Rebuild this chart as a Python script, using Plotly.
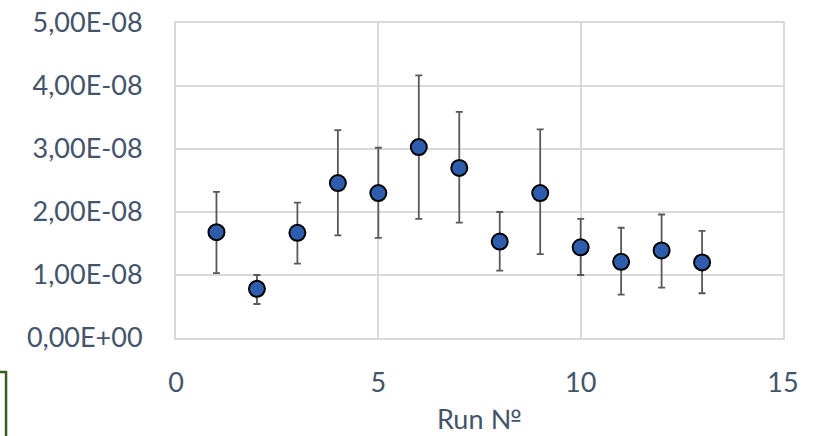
import plotly.graph_objects as go

# Measured value per run with asymmetric uncertainty bounds
runs = [1, 2, 3, 4, 5, 6, 7, 8, 9, 10, 11, 12, 13]
values = [1.68e-8, 0.78e-8, 1.67e-8, 2.46e-8, 2.30e-8, 3.03e-8, 2.70e-8,
          1.53e-8, 2.30e-8, 1.44e-8, 1.21e-8, 1.39e-8, 1.20e-8]
upper = [2.32e-8, 1.00e-8, 2.15e-8, 3.30e-8, 3.02e-8, 4.17e-8, 3.59e-8,
         2.00e-8, 3.31e-8, 1.89e-8, 1.75e-8, 1.96e-8, 1.70e-8]
lower = [1.03e-8, 0.54e-8, 1.18e-8, 1.63e-8, 1.59e-8, 1.89e-8, 1.83e-8,
         1.07e-8, 1.33e-8, 1.00e-8, 0.69e-8, 0.80e-8, 0.71e-8]

y_tickvals = [0, 1e-8, 2e-8, 3e-8, 4e-8, 5e-8]
y_ticktext = ["0,00E+00", "1,00E-08", "2,00E-08", "3,00E-08", "4,00E-08", "5,00E-08"]
x_tickvals = [0, 5, 10, 15]
x_title = "Run №"

err_plus = [u - v for u, v in zip(upper, values)]
err_minus = [v - l for v, l in zip(values, lower)]

label_color = "#44546A"
grid_color = "#D9D9D9"

fig = go.Figure(
    go.Scatter(
        x=runs,
        y=values,
        mode="markers",
        marker=dict(size=16, color="#2F5DAE", line=dict(color="#000000", width=2)),
        error_y=dict(
            type="data",
            symmetric=False,
            array=err_plus,
            arrayminus=err_minus,
            color="#595959",
            thickness=1.8,
            width=3.5,
        ),
        showlegend=False,
    )
)

fig.update_layout(
    width=823,
    height=436,
    margin=dict(l=176, r=40, t=23, b=98, autoexpand=False),
    paper_bgcolor="white",
    plot_bgcolor="white",
    font=dict(family="Lato, 'Open Sans', sans-serif", color=label_color),
    xaxis=dict(
        range=[0, 15],
        tickvals=x_tickvals,
        ticks="",
        showgrid=True,
        gridcolor=grid_color,
        gridwidth=2,
        showline=True,
        linecolor=grid_color,
        linewidth=2,
        mirror=True,
        zeroline=False,
        automargin=False,
        tickfont=dict(size=27, color=label_color),
        ticklabelstandoff=20,
    ),
    yaxis=dict(
        range=[0, 5e-8],
        tickvals=y_tickvals,
        ticktext=y_ticktext,
        ticks="",
        showgrid=True,
        gridcolor=grid_color,
        gridwidth=2,
        showline=True,
        linecolor=grid_color,
        linewidth=2,
        mirror=True,
        zeroline=False,
        automargin=False,
        tickfont=dict(size=27, color=label_color),
        ticklabelstandoff=26,
    ),
    annotations=[
        dict(
            text=x_title,
            xref="paper",
            yref="paper",
            x=0.5,
            y=-0.257,
            xanchor="center",
            yanchor="middle",
            borderpad=0,
            showarrow=False,
            font=dict(size=27, color=label_color),
        )
    ],
    shapes=[
        dict(
            type="rect",
            xref="paper",
            yref="paper",
            x0=-0.30,
            x1=-0.280,
            y0=-0.35,
            y1=-0.108,
            line=dict(color="#375E1E", width=2.5),
            fillcolor="rgba(0,0,0,0)",
            layer="above",
        )
    ],
)

fig.write_html("out.html")
